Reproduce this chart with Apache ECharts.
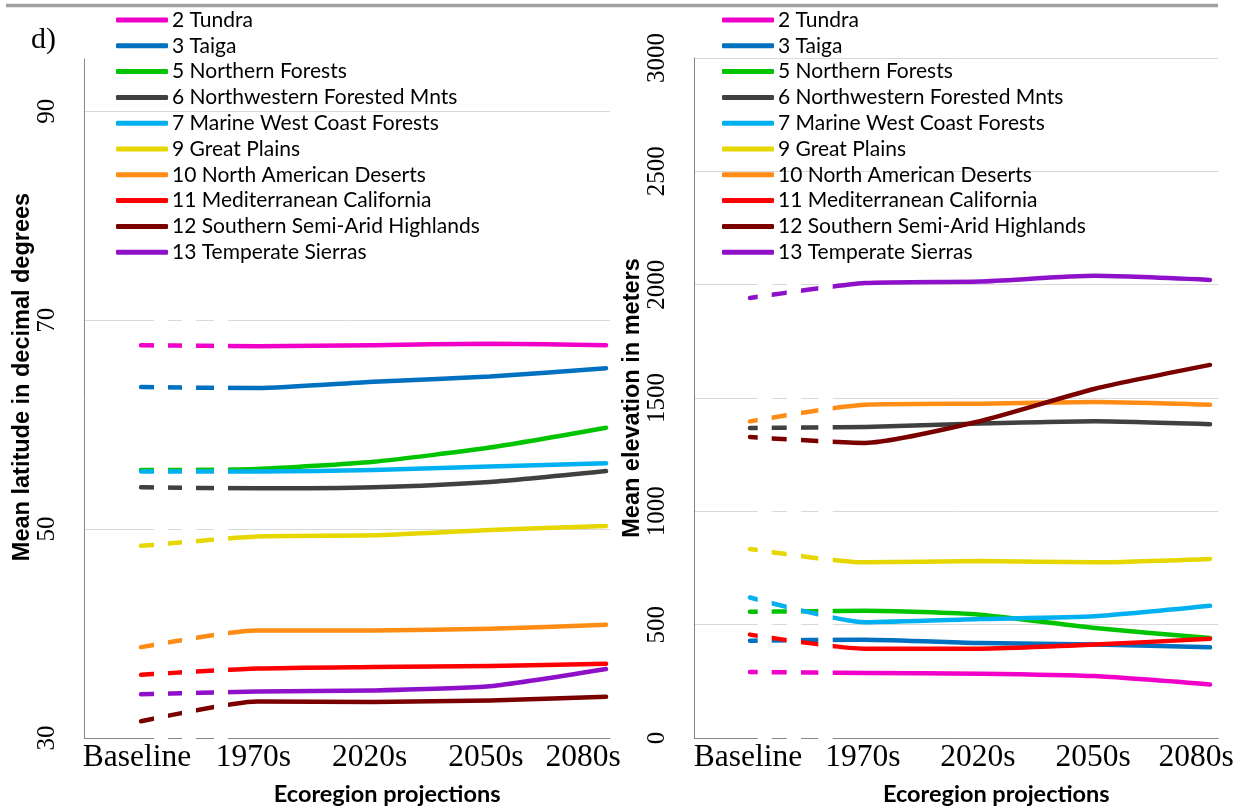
<!DOCTYPE html>
<html><head><meta charset="utf-8">
<script src="https://cdn.jsdelivr.net/npm/echarts@6/dist/echarts.min.js"></script>
<style>html,body{margin:0;padding:0;background:#fff}#c{width:1247px;height:811px}</style>
</head><body><div id="c"></div>
<script>
// ---- data ----
const periods = ['Baseline', '1970s', '2020s', '2050s', '2080s'];
const ecoregions = ['2 Tundra', '3 Taiga', '5 Northern Forests', '6 Northwestern Forested Mnts',
  '7 Marine West Coast Forests', '9 Great Plains', '10 North American Deserts',
  '11 Mediterranean California', '12 Southern Semi-Arid Highlands', '13 Temperate Sierras'];

// mean latitude (decimal degrees)
const latTundra            = [67.6, 67.5, 67.6, 67.75, 67.6];
const latTaiga             = [63.6, 63.5, 64.1, 64.6, 65.4];
const latNorthernForests   = [55.65, 55.75, 56.45, 57.8, 59.7];
const latNWForestedMnts    = [54.0, 53.9, 54.0, 54.5, 55.55];
const latMarineWestCoast   = [55.5, 55.5, 55.65, 56.0, 56.3];
const latGreatPlains       = [48.4, 49.3, 49.4, 49.9, 50.3];
const latNADeserts         = [38.7, 40.3, 40.3, 40.45, 40.85];
const latMedCalifornia     = [36.05, 36.65, 36.8, 36.9, 37.1];
const latSemiAridHighlands = [31.6, 33.5, 33.45, 33.6, 33.95];
const latTemperateSierras  = [34.2, 34.45, 34.55, 34.95, 36.6];

// mean elevation (meters)
const elvTundra            = [291, 287, 284, 273, 236];
const elvTaiga             = [429, 434, 419, 412, 400];
const elvNorthernForests   = [557, 561, 544, 485, 441];
const elvNWForestedMnts    = [1368, 1372, 1387, 1397, 1384];
const elvMarineWestCoast   = [620, 511, 525, 537, 583];
const elvGreatPlains       = [834, 775, 781, 775, 790];
const elvNADeserts         = [1397, 1470, 1475, 1482, 1470];
const elvMedCalifornia     = [456, 394, 394, 412, 438];
const elvSemiAridHighlands = [1328, 1302, 1398, 1541, 1646];
const elvTemperateSierras  = [1941, 2007, 2014, 2039, 2021];

const latTicks = [30, 50, 70, 90];
const elvTicks = [0, 500, 1000, 1500, 2000, 2500, 3000];

const latSeries = [latTundra, latTaiga, latNorthernForests, latNWForestedMnts, latMarineWestCoast,
  latGreatPlains, latNADeserts, latMedCalifornia, latSemiAridHighlands, latTemperateSierras];
const elvSeries = [elvTundra, elvTaiga, elvNorthernForests, elvNWForestedMnts, elvMarineWestCoast,
  elvGreatPlains, elvNADeserts, elvMedCalifornia, elvSemiAridHighlands, elvTemperateSierras];

// ---- styles ----
const colors = ['#F000C8', '#0070C0', '#00C400', '#404040', '#00B0F0',
  '#E6D700', '#FF8C14', '#FF0000', '#7A0000', '#8E10C8'];
const SERIF = 'Liberation Serif, Times New Roman, serif';
const SANS = 'Lato, Liberation Sans, sans-serif';
const BOLD = 'Liberation Sans, Arial, sans-serif';

function xFmt(v) {
  const i = Math.round(v);
  if (Math.abs(v - i) > 1e-6 || i < 0 || i >= periods.length) return '';
  return i === periods.length - 1 ? '{last|' + periods[i] + '}' : periods[i];
}

function makeX(gridIndex, min, max, lastPad, pad) {
  return {
    type: 'value', gridIndex, min, max, minInterval: 1, maxInterval: 1,
    axisLine: { show: true, onZero: false, lineStyle: { color: '#868686', width: 1 } },
    axisTick: { show: false }, splitLine: { show: false },
    axisLabel: {
      formatter: xFmt, fontFamily: SERIF, fontSize: 31.5, color: '#000', margin: 4,
      padding: [0, pad, 0, 0],
      rich: { last: { fontFamily: SERIF, fontSize: 31.5, color: '#000', padding: [0, lastPad, 0, 0] } }
    },
    name: 'Ecoregion projections', nameLocation: 'middle', nameGap: 44,
    nameTextStyle: { fontFamily: SANS, fontWeight: 'bold', fontSize: 23.5, color: '#000', padding: [0, 0, 0, 80] }
  };
}

function makeY(gridIndex, min, max, interval, name, namePad, hideMax) {
  return {
    type: 'value', gridIndex, min, max, interval,
    axisLine: { show: true, onZero: false, lineStyle: { color: '#868686', width: 1 } },
    axisTick: { show: false },
    splitLine: { show: true, showMaxLine: !hideMax, lineStyle: { color: '#D9D9D9', width: 1 } },
    axisLabel: { rotate: 90, fontFamily: SERIF, fontSize: 25, color: '#000', margin: 24,
      showMaxLabel: !hideMax, formatter: v => String(v) },
    name, nameLocation: 'middle', nameGap: 50,
    nameTextStyle: { fontFamily: BOLD, fontWeight: 'bold', fontSize: 23.5, color: '#000', padding: [0, 0, 0, namePad] }
  };
}

const series = [];
latSeries.forEach((vals, k) => series.push({
  type: 'line', name: ecoregions[k], xAxisIndex: 0, yAxisIndex: 0,
  data: vals.map((v, i) => [i, v]), symbol: 'none', smooth: 0.2,
  lineStyle: { color: colors[k], width: 4.5, cap: 'round', join: 'round' },
  itemStyle: { color: colors[k] }
}));
elvSeries.forEach((vals, k) => series.push({
  type: 'line', name: ecoregions[k], xAxisIndex: 1, yAxisIndex: 1,
  data: vals.map((v, i) => [i, v]), symbol: 'none', smooth: 0.2,
  lineStyle: { color: colors[k], width: 4.5, cap: 'round', join: 'round' },
  itemStyle: { color: colors[k] }
}));

function makeLegend(left) {
  return {
    orient: 'vertical', left, top: 9.5, padding: 0, data: ecoregions.slice(),
    icon: 'roundRect', itemWidth: 52, itemHeight: 5, itemGap: 4.8, selectedMode: false,
    textStyle: { fontFamily: SANS, fontSize: 21, lineHeight: 21, color: '#000', padding: [0, 0, 0, -1] }
  };
}

const stripes = [[154, 168], [182, 196], [214, 228], [757.7, 771.7], [786.7, 801], [818.3, 832.7]];

const option = {
  backgroundColor: '#fff',
  animation: false,
  grid: [
    { left: 84.3, right: 637, top: 59, bottom: 70.7 },
    { left: 694.3, right: 28.7, top: 58, bottom: 70.7 }
  ],
  xAxis: [makeX(0, -0.488, 4.034, 38, 8), makeX(1, -0.484, 4.072, 24, 4)],
  yAxis: [
    makeY(0, latTicks[0], 95, latTicks[1] - latTicks[0], 'Mean latitude in decimal degrees', 43, true),
    makeY(1, elvTicks[0], elvTicks[elvTicks.length - 1], elvTicks[1] - elvTicks[0], 'Mean elevation in meters', 0, false)
  ],
  legend: [makeLegend(116), makeLegend(722)],
  series,
  graphic: [
    { type: 'line', shape: { x1: 6, y1: 5.6, x2: 1218, y2: 5.6 }, style: { stroke: '#A0A0A0', lineWidth: 3.5 }, z: 10 },
    { type: 'text', left: 31, top: 25, style: { text: 'd)', fontFamily: SERIF, fontSize: 30, fill: '#000' }, z: 10 }
  ].concat(stripes.map(s => ({
    type: 'rect', shape: { x: s[0], y: 266, width: s[1] - s[0], height: 473 },
    style: { fill: '#fff' }, z: 50
  })))
};

const chart = echarts.init(document.getElementById('c'), null, { renderer: 'canvas' });
chart.setOption(option);
</script></body></html>
